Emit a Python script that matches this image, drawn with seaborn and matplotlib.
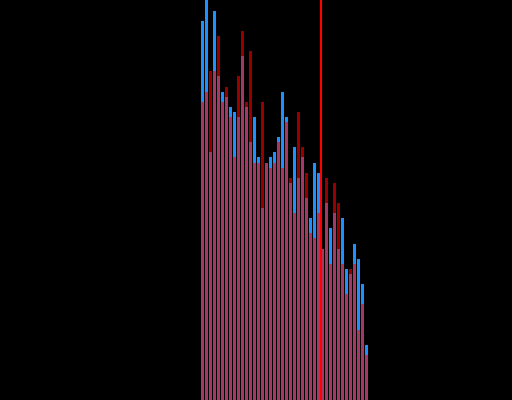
import matplotlib
matplotlib.use("Agg")
import matplotlib.pyplot as plt
import seaborn as sns
import pandas as pd

# bin index for each bar
bins = list(range(42))
# series values (arbitrary units)
blue_vals = [379, 410, 248, 389, 324, 308, 303, 293, 288, 283,
             344, 293, 258, 283, 243, 192, 237, 243, 248, 263,
             308, 283, 217, 253, 222, 243, 202, 182, 237, 227,
             151, 197, 172, 187, 151, 182, 131, 126, 156, 141,
             116, 55]
red_vals = [298, 308, 329, 329, 364, 298, 313, 283, 243, 324,
            369, 298, 349, 237, 237, 298, 237, 232, 237, 258,
            232, 278, 222, 187, 288, 253, 227, 167, 162, 187,
            151, 222, 136, 217, 197, 136, 106, 131, 136, 70,
            96, 45]
marker_pos = 29.5

df = pd.DataFrame({"bin": bins, "blue": blue_vals, "red": red_vals})

sns.set_style("dark")
fig = plt.figure(figsize=(5.12, 4.0), dpi=100, facecolor="black")
ax = fig.add_axes([0, 0, 1, 1])
ax.set_facecolor("black")

sns.barplot(data=df, x="bin", y="blue", color="#1e90ff", saturation=1,
            width=0.75, linewidth=0, ax=ax, order=bins)
sns.barplot(data=df, x="bin", y="red", color="#ff0000", saturation=1,
            width=0.75, linewidth=0, alpha=0.6, ax=ax, order=bins)
ax.axvline(marker_pos, color="red", linewidth=1.5)

ax.set_xlim(-50.625, 77.375)
ax.set_ylim(0, 400)
ax.axis("off")

fig.savefig("out.png", dpi=100, facecolor="black")
